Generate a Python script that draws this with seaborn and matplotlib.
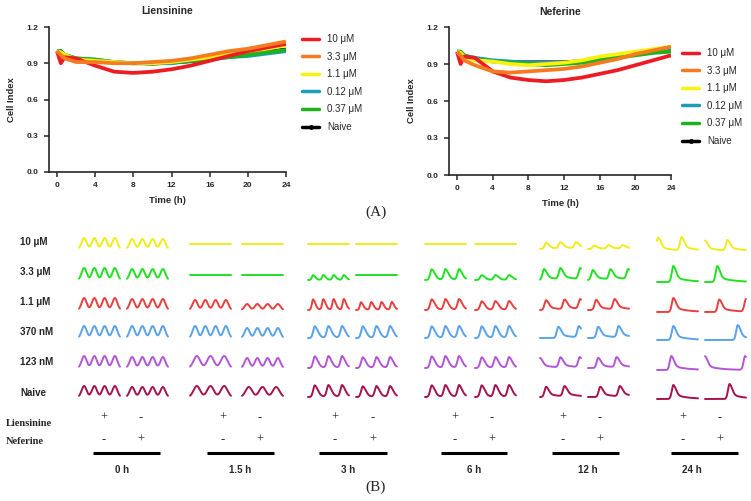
import numpy as np
import pandas as pd
import matplotlib
matplotlib.use("Agg")
import matplotlib.pyplot as plt
from matplotlib.lines import Line2D
import seaborn as sns

# ---------------- Panel A data (Cell Index vs time) ----------------
TIME_H = [0, 0.4, 0.8, 2, 4, 6, 8, 10, 12, 14, 16, 18, 20, 22, 24]
DOSES = ["10 μM", "3.3 μM", "1.1 μM", "0.12 μM", "0.37 μM", "Naive"]
DOSE_COLORS = ["#ed1c24", "#f47b20", "#f9f20c", "#1c9cb8", "#1cb31c", "#000000"]

LIEN_10 = [1.00, 0.90, 0.95, 0.94, 0.88, 0.83, 0.82, 0.83, 0.85, 0.88, 0.92, 0.96, 1.00, 1.03, 1.06]
LIEN_3_3 = [1.00, 0.97, 0.94, 0.91, 0.91, 0.90, 0.90, 0.91, 0.92, 0.94, 0.97, 1.00, 1.02, 1.05, 1.08]
LIEN_1_1 = [1.00, 0.99, 0.97, 0.93, 0.92, 0.91, 0.90, 0.90, 0.91, 0.93, 0.95, 0.98, 1.00, 1.02, 1.05]
LIEN_0_12 = [1.00, 1.00, 0.97, 0.94, 0.93, 0.91, 0.90, 0.90, 0.90, 0.92, 0.93, 0.95, 0.96, 0.98, 1.00]
LIEN_0_37 = [1.00, 1.00, 0.97, 0.94, 0.93, 0.91, 0.90, 0.90, 0.91, 0.92, 0.94, 0.95, 0.97, 0.99, 1.01]
LIEN_NAIVE = [1.00, 1.01, 0.97, 0.94, 0.92, 0.91, 0.90, 0.89, 0.90, 0.91, 0.93, 0.96, 0.98, 1.00, 1.02]

NEF_10 = [1.00, 0.90, 0.96, 0.95, 0.84, 0.79, 0.77, 0.76, 0.77, 0.79, 0.82, 0.85, 0.89, 0.93, 0.97]
NEF_3_3 = [1.00, 0.97, 0.93, 0.89, 0.84, 0.83, 0.84, 0.85, 0.86, 0.88, 0.91, 0.94, 0.98, 1.01, 1.04]
NEF_1_1 = [1.00, 0.99, 0.96, 0.93, 0.92, 0.90, 0.89, 0.90, 0.91, 0.93, 0.96, 0.98, 1.00, 1.02, 1.04]
NEF_0_12 = [1.00, 1.00, 0.97, 0.95, 0.93, 0.92, 0.91, 0.91, 0.91, 0.92, 0.94, 0.96, 0.98, 1.00, 1.01]
NEF_0_37 = [1.00, 1.00, 0.97, 0.94, 0.92, 0.91, 0.90, 0.89, 0.90, 0.91, 0.93, 0.95, 0.97, 0.99, 1.00]
NEF_NAIVE = [1.00, 1.00, 0.97, 0.95, 0.93, 0.92, 0.92, 0.92, 0.92, 0.93, 0.94, 0.96, 0.98, 1.00, 1.02]

Y_TICKS = [0.0, 0.3, 0.6, 0.9, 1.2]
X_TICKS = [0, 4, 8, 12, 16, 20, 24]

# ---------------- Panel B data (calcium oscillation traces) ----------------
TRACE_TIMES = ["0 h", "1.5 h", "3 h", "6 h", "12 h", "24 h"]
TRACE_ROWS = ["10 μM", "3.3 μM", "1.1 μM", "370 nM", "123 nM", "Naive"]
TRACE_COLORS = ["#f0ec1c", "#22e022", "#e8403f", "#5aa2ea", "#b356d6", "#a3134f"]

# (Liensinine, Neferine) number of peaks per row
PEAKS_0H = [(4, 4), (4, 4), (4, 4), (4, 4), (4, 4), (4, 4)]
AMPS_0H = [(11, 10), (12, 11), (12, 11), (12, 12), (12, 11), (11, 10)]
PEAKS_1_5H = [(0, 0), (0, 0), (4, 4), (4, 4), (3, 4), (3, 3)]
AMPS_1_5H = [(0, 0), (0, 0), (10, 6), (12, 10), (12, 10), (11, 10)]
PEAKS_3H = [(0, 0), (4, 0), (4, 4), (3, 3), (3, 3), (3, 3)]
AMPS_3H = [(0, 0), (5, 0), (11, 8), (12, 12), (12, 11), (12, 11)]
PEAKS_6H = [(0, 0), (3, 3), (3, 3), (3, 3), (3, 3), (3, 3)]
AMPS_6H = [(0, 0), (11, 5), (11, 9), (12, 12), (12, 11), (12, 12)]
# explicit peak positions (fraction of trace width) for 12 h and 24 h
PEAKPOS_12H = [([0.15, 0.5, 0.88], [0.15, 0.5, 0.85]),
               ([0.1, 0.5, 0.98], [0.12, 0.55, 0.98]),
               ([0.15, 0.6, 0.98], [0.2, 0.65]),
               ([0.45, 0.95], [0.25, 0.75]),
               ([0.0, 0.5, 0.97], [0.25, 0.7]),
               ([0.15, 0.6], [0.3, 0.78])]
AMPS_12H = [(7, 4), (12, 11), (11, 11), (12, 12), (11, 11), (11, 11)]
PEAKPOS_24H = [([0.03, 0.6], [0.0, 0.55]),
               ([0.4], [0.3]),
               ([0.4], [0.35, 1.0]),
               ([0.4], [0.8]),
               ([0.35], [0.0, 0.98]),
               ([0.4], [0.6])]
AMPS_24H = [(14, 11), (16, 16), (14, 13), (14, 15), (14, 14), (14, 15)]

# ---------------- style ----------------
sns.set_style("ticks")
plt.rcParams["font.family"] = ["Liberation Sans", "DejaVu Sans"]
plt.rcParams["font.weight"] = "bold"

W, H = 751, 501
fig = plt.figure(figsize=(W / 100, H / 100), dpi=100)

ov = fig.add_axes([0, 0, 1, 1], zorder=0)
ov.set_xlim(0, W)
ov.set_ylim(H, 0)
ov.axis("off")


def px_axes(left, top, right, bottom):
    return fig.add_axes([left / W, 1 - bottom / H, (right - left) / W, (bottom - top) / H], zorder=2)


def draw_panel(ax, series, title, xmin, legend_xy, spacing):
    ax.set_facecolor("none")
    df = pd.concat([pd.DataFrame({"time": TIME_H, "value": v, "dose": d})
                    for d, v in zip(DOSES, series)])
    order = [5, 3, 4, 2, 0, 1]
    for i in order:
        sub = df[df["dose"] == DOSES[i]]
        sns.lineplot(data=sub, x="time", y="value", color=DOSE_COLORS[i],
                     lw=1.6 if DOSES[i] == "Naive" else 2.7, ax=ax, legend=False,
                     solid_capstyle="butt")
    ax.set_xlim(xmin, 24)
    ax.set_ylim(0, 1.2)
    ax.set_xticks(X_TICKS)
    ax.set_yticks(Y_TICKS)
    ax.set_yticklabels([f"{v:.1f}" for v in Y_TICKS])
    ax.tick_params(labelsize=6, width=1.1, length=3.5, pad=4)
    for lab in ax.get_xticklabels() + ax.get_yticklabels():
        lab.set_fontweight("bold")
    sns.despine(ax=ax)
    for s in ["left", "bottom"]:
        ax.spines[s].set_linewidth(1.2)
    ax.set_xlabel("Time (h)", fontsize=6.8, fontweight="bold", labelpad=5)
    ax.set_ylabel("Cell Index", fontsize=6.8, fontweight="bold", labelpad=8)
    ax.set_title(title, fontsize=7.5, fontweight="bold", pad=9)
    handles = [Line2D([], [], color=c, lw=2.5, marker="o" if d == "Naive" else None, ms=2.5)
               for d, c in zip(DOSES, DOSE_COLORS)]
    fig.legend(handles, DOSES, loc="upper left",
               bbox_to_anchor=(legend_xy[0] / W, 1 - legend_xy[1] / H),
               frameon=False, handlelength=1.75, handletextpad=0.8,
               labelspacing=spacing, borderpad=0, borderaxespad=0,
               prop={"weight": "normal", "size": 7})


axL = px_axes(49, 27, 286, 172)
draw_panel(axL, [LIEN_10, LIEN_3_3, LIEN_1_1, LIEN_0_12, LIEN_0_37, LIEN_NAIVE],
           "Liensinine", -0.84, (302, 34), 0.78)
axR = px_axes(449, 27, 671, 175)
draw_panel(axR, [NEF_10, NEF_3_3, NEF_1_1, NEF_0_12, NEF_0_37, NEF_NAIVE],
           "Neferine", -0.9, (682, 48), 0.78)

ov.text(376, 212, "(A)", ha="center", va="center", fontsize=11,
        family=["Liberation Serif", "DejaVu Serif"], fontweight="normal")
ov.text(376, 487, "(B)", ha="center", va="center", fontsize=11,
        family=["Liberation Serif", "DejaVu Serif"], fontweight="normal")

# ---------------- Panel B ----------------
ROW_LABEL_Y = [242, 272, 302, 332, 362, 393]
ROW_BASE = [249, 280, 310, 338, 368, 397]
GROUP_X = [(79, 127), (190, 242), (308, 356), (425, 475), (540, 588), (657, 705)]
TRACE_W = 41
PM_X = [(104, 141), (223, 260), (335, 373), (455, 492), (563, 600), (683, 720)]
BAR_X = [(93, 160), (207, 274), (319, 387), (441, 507), (552, 619), (671, 738)]
TLABEL_X = [122, 240, 348, 474, 588, 692]
KINDS = ["sine", "sine", "wave", "wave", "spike", "spike"]

tt = np.linspace(0, 1, 200)


def shape(positions, kind, n):
    y = np.zeros_like(tt)
    if len(positions) == 0:
        return y
    for p in positions:
        dt = tt - p
        if kind == "sine":
            s = 0.34 / n
            k = np.exp(-(dt / s) ** 2)
        elif kind == "wave":
            r, d = 0.17 / n, 0.30 / n
            k = np.where(dt < 0, np.exp(-(dt / r) ** 2),
                         0.75 * np.exp(-(dt / d) ** 2) + 0.25 * np.exp(-dt / (1.5 * d)))
        else:
            r = 0.055
            k = np.where(dt < 0, np.exp(-(dt / r) ** 2),
                         0.65 * np.exp(-(dt / 0.09) ** 2) + 0.35 * np.exp(-dt / 0.3))
        y += k
    return y / y.max()


def trace_specs(g):
    if g < 4:
        peaks = [PEAKS_0H, PEAKS_1_5H, PEAKS_3H, PEAKS_6H][g]
        amps = [AMPS_0H, AMPS_1_5H, AMPS_3H, AMPS_6H][g]
        out = []
        for r in range(6):
            row = []
            for c in range(2):
                n = peaks[r][c]
                pos = [(i + 0.5) / n for i in range(n)] if n else []
                row.append((pos, amps[r][c], max(n, 1)))
            out.append(row)
        return out
    pos = PEAKPOS_12H if g == 4 else PEAKPOS_24H
    amps = AMPS_12H if g == 4 else AMPS_24H
    return [[(pos[r][c], amps[r][c], 3) for c in range(2)] for r in range(6)]


for g in range(6):
    specs = trace_specs(g)
    for r in range(6):
        for c in range(2):
            pos, amp, n = specs[r][c]
            x0 = GROUP_X[g][c]
            base = ROW_BASE[r] + (2 if g == 5 else 0)
            if amp == 0:
                yy = np.full_like(tt, ROW_BASE[r] - 5.0)
            else:
                yy = base - amp * shape(pos, KINDS[g], n)
            ov.plot(x0 + tt * TRACE_W, yy, color=TRACE_COLORS[r], lw=1.4,
                    solid_capstyle="round", solid_joinstyle="round")

for r, lab in enumerate(TRACE_ROWS):
    ov.text(20, ROW_LABEL_Y[r], lab, ha="left", va="center", fontsize=7, fontweight="bold")

serif = ["Liberation Serif", "DejaVu Serif"]
ov.text(6, 423, "Liensinine", ha="left", va="center", fontsize=7.5, fontweight="bold", family=serif)
ov.text(6, 441, "Neferine", ha="left", va="center", fontsize=7.5, fontweight="bold", family=serif)

for g in range(6):
    xp, xm = PM_X[g]
    ov.text(xp, 418, "+", ha="center", va="center", fontsize=9, family=serif, fontweight="normal")
    ov.text(xm, 418, "-", ha="center", va="center", fontsize=9, family=serif, fontweight="normal")
    ov.text(xp, 440, "-", ha="center", va="center", fontsize=9, family=serif, fontweight="normal")
    ov.text(xm, 440, "+", ha="center", va="center", fontsize=9, family=serif, fontweight="normal")
    ov.plot(BAR_X[g], [453, 453], color="black", lw=2.2, solid_capstyle="butt")
    ov.text(TLABEL_X[g], 470, TRACE_TIMES[g], ha="center", va="center", fontsize=7, fontweight="bold")

fig.savefig("out.png", dpi=100)
